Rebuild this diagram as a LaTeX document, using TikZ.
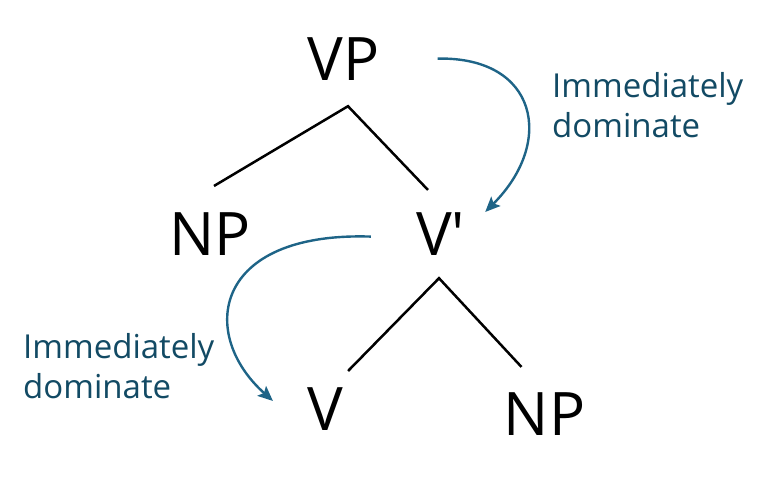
\documentclass[tikz,border=0pt]{standalone}
\usepackage{fontspec}
\setmainfont{Open Sans}
\newfontfamily\catfont{Open Sans}
\usetikzlibrary{arrows.meta, calc, positioning}
\definecolor{domArrow}{RGB}{30,100,135}
\definecolor{domText} {RGB}{18, 74,100}

\begin{document}
\begin{tikzpicture}[x=1pt, y=-1pt,
  cat/.style={inner sep=0pt, anchor=base, font=\catfont\fontsize{60}{66}\selectfont},
  branch/.style={line width=2.5pt, draw=black},
  dom/.style={draw=domArrow, line width=2.4pt,
    -{Stealth[length=15pt, width=13pt, inset=3pt]}},
  lbl/.style={inner sep=0pt, anchor=base west, align=left,
    text=domText, font=\fontsize{33}{40}\selectfont},
]
\useasboundingbox (0,0) rectangle (768,490);

%% ── Tree nodes ──────────────────────────────────────────────────────────────
\node[cat] (vp)   at (343.5,  80) {VP};
\node[cat] (np1)  at (210,   255) {NP};
\node[cat] (vbar) at (440.5, 255) {V'};
\node[cat] (v)    at (325,   430) {V};
\node[cat] (np2)  at (544.5, 435) {NP};

%% ── Branches ────────────────────────────────────────────────────────────────
\draw[branch] ([xshift=4pt,yshift=26pt]np1.north)
  -- ([xshift=4.5pt,yshift=-26pt]vp.south)
  -- ([xshift=-12.5pt,yshift=22pt]vbar.north);
\draw[branch] ([xshift=5pt,yshift=16pt]v.north east)
  -- ([xshift=-1.5pt,yshift=-23pt]vbar.south)
  -- ([xshift=-23pt,yshift=25pt]np2.north);

%% ── Domination arrows ───────────────────────────────────────────────────────
\draw[dom] ([xshift=58pt]vp.east)
  .. controls +(100,-2) and +(70,-70) .. ([xshift=20pt]vbar.north east);
\draw[dom] ([xshift=-45pt,yshift=-3pt]vbar.west)
  .. controls +(-158,-5) and +(-75,-67) .. ([xshift=-34pt,yshift=-14pt]v.north west);

%% ── Labels (base = last line) ───────────────────────────────────────────────
\node[lbl] (lab1) at (552, 137) {Immediately\\dominate};
\node[lbl] (lab2) at (23,  398) {Immediately\\dominate};

\end{tikzpicture}
\end{document}
